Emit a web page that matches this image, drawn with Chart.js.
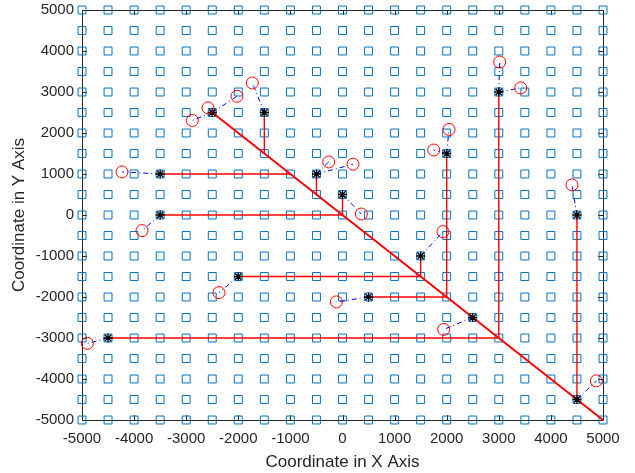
<!DOCTYPE html>
<html>
<head>
<meta charset="utf-8">
<script src="https://cdn.jsdelivr.net/npm/chart.js@4.4.0/dist/chart.umd.min.js"></script>
<style>
  body { margin: 0; background: #fff; }
  canvas { display: block; }
</style>
</head>
<body>
<canvas id="myChart" width="635" height="473"></canvas>
<script>
// grid of candidate locations (both axes)
const gridValues = [-5000, -4500, -4000, -3500, -3000, -2500, -2000, -1500, -1000, -500, 0,
  500, 1000, 1500, 2000, 2500, 3000, 3500, 4000, 4500, 5000];
const tickValues = [-5000, -4000, -3000, -2000, -1000, 0, 1000, 2000, 3000, 4000, 5000];

// selected nodes (asterisks)
const nodeX = [-2500, -1500, -3500, -500, 0, -3500, 2000, 3000, 4500, 1500, -2000, 500, 2500, -4500, 4500];
const nodeY = [2500, 2500, 1000, 1000, 500, 0, 1500, 3000, 0, -1000, -1500, -2000, -2500, -3000, -4500];

// red backbone segments
const segFromX = [-2500, -1500, -3500, -500, 0, -3500, 2000, 500, 3000, -4500, 4500, 1500, -2000];
const segFromY = [2500, 2500, 1000, 1000, 500, 0, 1500, -2000, 3000, -3000, 0, -1000, -1500];
const segToX = [5000, -1500, -1000, -500, 0, 0, 2000, 2000, 3000, 3000, 4500, 1500, 1500];
const segToY = [-5000, 1500, 1000, 500, 0, 0, -2000, -2000, -3000, -3000, -4500, -1500, -1500];

// users (red circles) and the node each one is attached to
const userX = [-1730, -2025, -2582, -2881, -4232, -265, 202, 3017, 3420, 2044, 1750, 362, 4405, -3848, -2370, -4897, -117, 1929, 1942, 4873];
const userY = [3220, 2896, 2614, 2306, 1051, 1294, 1238, 3731, 3100, 2087, 1585, 24, 735, -381, -1893, -3131, -2119, -405, -2791, -4046];
const userNode = [1, 0, 0, 0, 2, 3, 3, 7, 7, 6, 6, 4, 8, 5, 10, 13, 11, 9, 12, 14];

const axisColor = "#262626";
const fontFamily = "'Liberation Sans', Arial, Helvetica, sans-serif";

const squares = [];
gridValues.forEach((gx) => {
  gridValues.forEach((gy) => squares.push({ x: gx, y: gy }));
});

const datasets = [];
datasets.push({
  data: squares,
  pointStyle: "rect",
  pointRadius: 5.6,
  borderColor: "#0072BD",
  backgroundColor: "rgba(0,0,0,0)",
  borderWidth: 1,
  showLine: false,
  order: 5,
  clip: false,
});

segFromX.forEach((x0, i) => {
  datasets.push({
    data: [
      { x: x0, y: segFromY[i] },
      { x: segToX[i], y: segToY[i] },
    ],
    showLine: true,
    borderColor: "#ff0000",
    borderWidth: i === 0 ? 2 : 1.4,
    pointRadius: 0,
    order: 4,
    clip: false,
  });
});

userX.forEach((ux, i) => {
  const n = userNode[i];
  datasets.push({
    data: [
      { x: nodeX[n], y: nodeY[n] },
      { x: ux, y: userY[i] },
    ],
    showLine: true,
    borderColor: "#0000ff",
    borderWidth: 1,
    borderDash: [5, 3, 1, 3],
    pointRadius: 0,
    order: 3,
    clip: false,
  });
});

datasets.push({
  data: nodeX.map((x, i) => ({ x: x, y: nodeY[i] })),
  pointStyle: "star",
  pointRadius: 4.5,
  borderColor: "#000000",
  backgroundColor: "#000000",
  borderWidth: 1.3,
  showLine: false,
  order: 2,
  clip: false,
});

datasets.push({
  data: userX.map((x, i) => ({ x: x, y: userY[i] })),
  pointStyle: "circle",
  pointRadius: 6,
  borderColor: "#ff0000",
  backgroundColor: "rgba(0,0,0,0)",
  borderWidth: 1,
  showLine: false,
  order: 1,
  clip: false,
});

// box around the axes with inward tick marks on all four sides
const boxPlugin = {
  id: "boxTicks",
  beforeDatasetsDraw(chart) {
    const { ctx, chartArea } = chart;
    const xs = chart.scales.x;
    const ys = chart.scales.y;
    const len = 5;
    ctx.save();
    ctx.strokeStyle = axisColor;
    ctx.lineWidth = 1;
    ctx.beginPath();
    ctx.rect(chartArea.left + 0.5, chartArea.top + 0.5, chartArea.right - chartArea.left, chartArea.bottom - chartArea.top);
    tickValues.forEach((v) => {
      const px = Math.round(xs.getPixelForValue(v)) + 0.5;
      ctx.moveTo(px, chartArea.bottom);
      ctx.lineTo(px, chartArea.bottom - len);
      ctx.moveTo(px, chartArea.top);
      ctx.lineTo(px, chartArea.top + len);
      const py = Math.round(ys.getPixelForValue(v)) + 0.5;
      ctx.moveTo(chartArea.left, py);
      ctx.lineTo(chartArea.left + len, py);
      ctx.moveTo(chartArea.right, py);
      ctx.lineTo(chartArea.right - len, py);
    });
    ctx.stroke();
    ctx.restore();
  },
};

const plainLabel = (value) => String(value);

const ctx = document.getElementById("myChart").getContext("2d");
new Chart(ctx, {
  type: "scatter",
  data: { datasets: datasets },
  plugins: [boxPlugin],
  options: {
    responsive: false,
    animation: false,
    devicePixelRatio: 1,
    events: [],
    layout: { padding: { top: 10, right: 32, left: 0, bottom: 0 } },
    plugins: {
      legend: { display: false },
      tooltip: { enabled: false },
    },
    scales: {
      x: {
        type: "linear",
        min: -5000,
        max: 5000,
        afterBuildTicks: (scale) => {
          scale.ticks = tickValues.map((v) => ({ value: v }));
        },
        afterFit: (scale) => {
          scale.height = 53;
          scale.paddingLeft = 0;
          scale.paddingRight = 0;
        },
        grid: { display: false, drawTicks: false },
        border: { display: false },
        ticks: {
          color: axisColor,
          padding: 10,
          maxRotation: 0,
          autoSkip: false,
          callback: plainLabel,
          font: { family: fontFamily, size: 15 },
        },
        title: {
          display: true,
          text: "Coordinate in X Axis",
          color: axisColor,
          padding: { top: 3, bottom: 0 },
          font: { family: fontFamily, size: 17 },
        },
      },
      y: {
        type: "linear",
        min: -5000,
        max: 5000,
        afterBuildTicks: (scale) => {
          scale.ticks = tickValues.map((v) => ({ value: v }));
        },
        afterFit: (scale) => {
          scale.width = 82;
          scale.paddingTop = 0;
          scale.paddingBottom = 0;
        },
        grid: { display: false, drawTicks: false },
        border: { display: false },
        ticks: {
          color: axisColor,
          padding: 8,
          autoSkip: false,
          callback: plainLabel,
          font: { family: fontFamily, size: 15 },
        },
        title: {
          display: true,
          text: "Coordinate in Y Axis",
          color: axisColor,
          padding: { top: 9, bottom: 0 },
          font: { family: fontFamily, size: 17 },
        },
      },
    },
  },
});
</script>
</body>
</html>
